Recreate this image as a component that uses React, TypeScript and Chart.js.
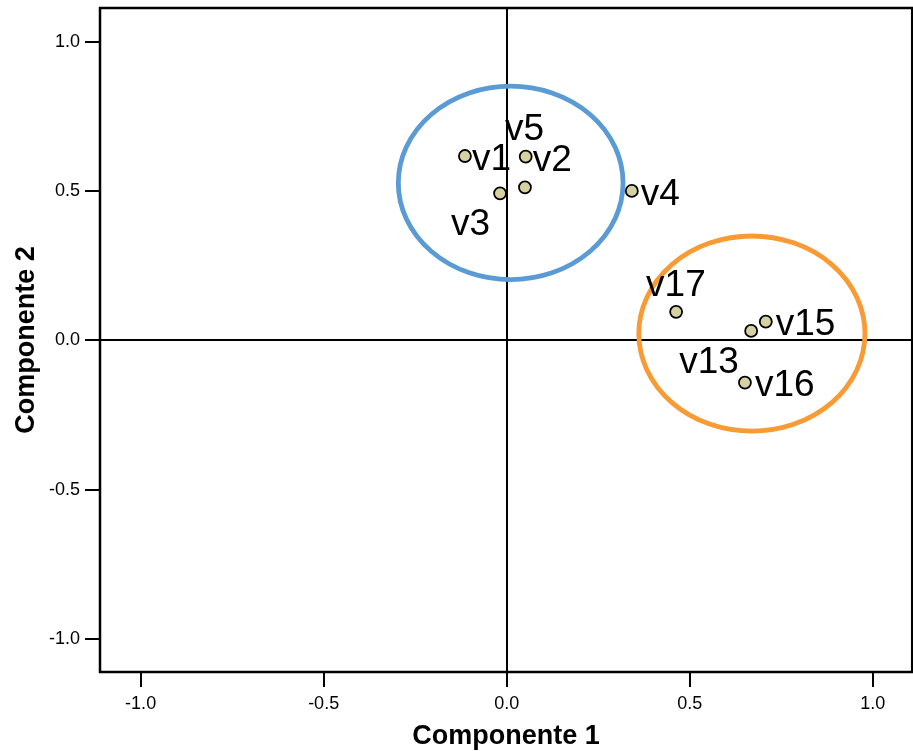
import { useEffect, useRef } from 'react';
import { Chart, registerables } from 'chart.js';

Chart.register(...registerables);

// Component loadings of each variable
const variableNames = ['v1', 'v2', 'v3', 'v4', 'v5', 'v13', 'v15', 'v16', 'v17'];
const component1 = [-0.114, 0.052, -0.018, 0.342, 0.05, 0.668, 0.708, 0.651, 0.463];
const component2 = [0.618, 0.616, 0.493, 0.501, 0.513, 0.032, 0.063, -0.141, 0.096];

// Axis ticks
const axisTicks = [-1.0, -0.5, 0.0, 0.5, 1.0];

// Cluster outlines (centre and half-axes in component units)
const clusterCenterX = [0.011, 0.67];
const clusterCenterY = [0.528, 0.023];
const clusterRadiusX = [0.307, 0.309];
const clusterRadiusY = [0.324, 0.327];
const clusterColors = ['#5b9bd5', '#f89b34'];

// Label placement relative to each point: [dx, dy] of the text's left baseline, in px
const labelOffsets: Record<string, [number, number]> = {
  v1: [7, 14],
  v2: [7, 14],
  v3: [-49, 42],
  v4: [9, 14],
  v5: [-20, -47],
  v13: [-72, 42],
  v15: [10, 13],
  v16: [10, 13],
  v17: [-30, -16],
};

const FONT = '"Liberation Sans", Arial, Helvetica, sans-serif';

const framePlugin = {
  id: 'frameAndClusters',
  beforeDatasetsDraw(chart: any) {
    const { ctx, chartArea, scales } = chart;
    const xs = scales.x;
    const ys = scales.y;
    ctx.save();
    // cluster ellipses
    for (let i = 0; i < clusterCenterX.length; i++) {
      const cx = xs.getPixelForValue(clusterCenterX[i]);
      const cy = ys.getPixelForValue(clusterCenterY[i]);
      const rx = Math.abs(xs.getPixelForValue(clusterCenterX[i] + clusterRadiusX[i]) - cx);
      const ry = Math.abs(ys.getPixelForValue(clusterCenterY[i] + clusterRadiusY[i]) - cy);
      ctx.beginPath();
      ctx.ellipse(cx, cy, rx, ry, 0, 0, Math.PI * 2);
      ctx.strokeStyle = clusterColors[i];
      ctx.lineWidth = 4.8;
      ctx.stroke();
    }
    // plot frame
    ctx.strokeStyle = '#000';
    ctx.lineWidth = 2.5;
    ctx.strokeRect(chartArea.left, chartArea.top, chartArea.right - chartArea.left, chartArea.bottom - chartArea.top);
    ctx.restore();
  },
  afterDatasetsDraw(chart: any) {
    const { ctx } = chart;
    const meta = chart.getDatasetMeta(0);
    ctx.save();
    ctx.font = `37px ${FONT}`;
    ctx.fillStyle = '#000';
    ctx.textAlign = 'left';
    ctx.textBaseline = 'alphabetic';
    meta.data.forEach((pt: any, i: number) => {
      const name = variableNames[i];
      const [dx, dy] = labelOffsets[name] || [8, 14];
      ctx.fillText(name, pt.x + dx, pt.y + dy);
    });
    ctx.restore();
  },
};

const clearScalePadding = (scale: any) => {
  scale.paddingTop = 0;
  scale.paddingBottom = 0;
  scale.paddingLeft = 0;
  scale.paddingRight = 0;
};

export default function App() {
  const canvasRef = useRef<HTMLCanvasElement | null>(null);

  useEffect(() => {
    const canvas = canvasRef.current;
    if (!canvas) return;
    const zeroLine = (c: any) => (c.tick && c.tick.value === 0 ? '#000' : 'rgba(0,0,0,0)');
    const chart = new Chart(canvas, {
      type: 'scatter',
      data: {
        datasets: [
          {
            data: component1.map((x, i) => ({ x, y: component2[i] })),
            backgroundColor: '#d5d1a0',
            borderColor: '#000',
            borderWidth: 1.8,
            pointRadius: 6,
            pointHoverRadius: 6,
          },
        ],
      },
      options: {
        responsive: false,
        animation: false,
        devicePixelRatio: 1,
        layout: { padding: { top: 8, right: 0, left: 0, bottom: 0 } },
        plugins: { legend: { display: false }, tooltip: { enabled: false } },
        scales: {
          x: {
            type: 'linear',
            min: -1.111,
            max: 1.108,
            afterBuildTicks: (scale: any) => {
              scale.ticks = axisTicks.map((v) => ({ value: v }));
            },
            afterFit: (scale: any) => {
              scale.height = 79;
              clearScalePadding(scale);
            },
            border: { display: false },
            grid: {
              drawOnChartArea: true,
              drawTicks: true,
              tickLength: 15,
              color: zeroLine,
              lineWidth: 2,
              tickColor: '#000',
              tickWidth: 2,
            },
            ticks: {
              color: '#000',
              padding: 6,
              font: { family: FONT, size: 18 },
              callback: (v: any) => Number(v).toFixed(1),
            },
            title: {
              display: true,
              text: 'Componente 1',
              color: '#000',
              font: { family: FONT, size: 27, weight: 'bold' },
              padding: { top: 0, bottom: -2 },
            },
          },
          y: {
            type: 'linear',
            min: -1.111,
            max: 1.114,
            afterBuildTicks: (scale: any) => {
              scale.ticks = axisTicks.map((v) => ({ value: v }));
            },
            afterFit: (scale: any) => {
              scale.width = 100;
              clearScalePadding(scale);
            },
            border: { display: false },
            grid: {
              drawOnChartArea: true,
              drawTicks: true,
              tickLength: 15,
              color: zeroLine,
              lineWidth: 2,
              tickColor: '#000',
              tickWidth: 2,
            },
            ticks: {
              color: '#000',
              padding: 5,
              font: { family: FONT, size: 18 },
              callback: (v: any) => Number(v).toFixed(1),
            },
            title: {
              display: true,
              text: 'Componente 2',
              color: '#000',
              font: { family: FONT, size: 27, weight: 'bold' },
              padding: { top: 10, bottom: 0 },
            },
          },
        },
      },
      plugins: [framePlugin],
    });
    return () => chart.destroy();
  }, []);

  return (
    <div style={{ position: 'absolute', left: 0, top: 0, width: 913, height: 751, overflow: 'hidden', background: '#fff' }}>
      <canvas ref={canvasRef} width={920} height={751} style={{ display: 'block' }} />
    </div>
  );
}
